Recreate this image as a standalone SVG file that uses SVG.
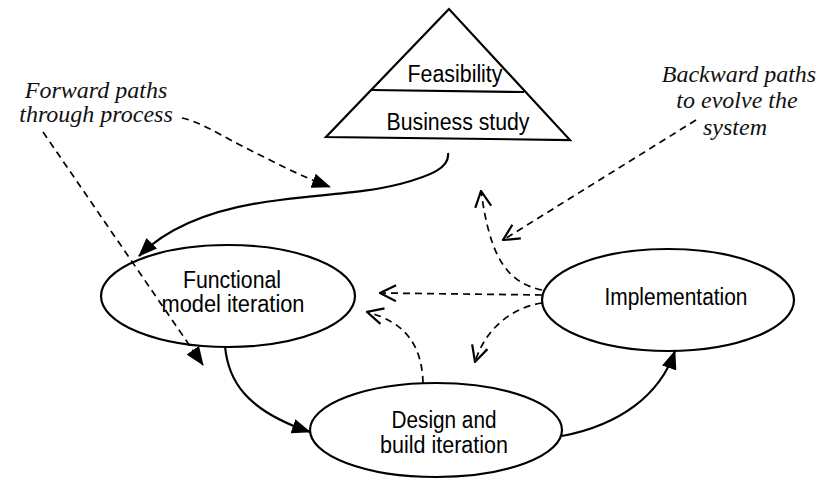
<svg xmlns="http://www.w3.org/2000/svg" width="836" height="483" viewBox="0 0 836 483">
  <style>
    .shape { fill: none; stroke: #000; stroke-width: 2.2; }
    .label { font-family: "Liberation Sans", Arial, sans-serif; font-size: 23px; fill: #000; text-anchor: middle; }
    .note { font-family: "Liberation Serif", "Times New Roman", serif; font-style: italic; font-size: 24px; fill: #111; text-anchor: middle; }
    .flow { fill: none; stroke: #000; stroke-width: 2.2; }
    .dash { fill: none; stroke: #000; stroke-width: 1.7; stroke-dasharray: 7 5; }
  </style>
  <defs>
    <marker id="tri" viewBox="0 0 19 15" refX="18" refY="7.5" markerWidth="19" markerHeight="15" markerUnits="userSpaceOnUse" orient="auto">
      <path d="M0,0 L19,7.5 L0,15 z" fill="#000" stroke="none"/>
    </marker>
    <marker id="vee" viewBox="0 0 18 18" refX="17" refY="9" markerWidth="18" markerHeight="18" markerUnits="userSpaceOnUse" orient="auto">
      <path d="M1,1 L17,9 L1,17" fill="none" stroke="#000" stroke-width="2.2" stroke-dasharray="none"/>
    </marker>
  </defs>
  <rect width="836" height="483" fill="#fff"/>

  <!-- pyramid: feasibility over business study -->
  <g id="feasibility-business">
    <polygon class="shape" points="449,9 326,137 570,140"/>
    <line class="shape" x1="371" y1="90" x2="524" y2="92"/>
    <text class="label" x="455" y="82" textLength="95" lengthAdjust="spacingAndGlyphs">Feasibility</text>
    <text class="label" x="458" y="130" textLength="143" lengthAdjust="spacingAndGlyphs">Business study</text>
  </g>

  <g id="functional-model">
    <ellipse class="shape" cx="228" cy="296" rx="127" ry="51"/>
    <text class="label" x="232" y="288" textLength="98" lengthAdjust="spacingAndGlyphs">Functional</text>
    <text class="label" x="233" y="312" textLength="143" lengthAdjust="spacingAndGlyphs">model iteration</text>
  </g>

  <g id="design-build">
    <ellipse class="shape" cx="436" cy="430" rx="126" ry="47"/>
    <text class="label" x="444" y="428" textLength="105" lengthAdjust="spacingAndGlyphs">Design and</text>
    <text class="label" x="444" y="453" textLength="128" lengthAdjust="spacingAndGlyphs">build iteration</text>
  </g>

  <g id="implementation">
    <ellipse class="shape" cx="668" cy="300" rx="126" ry="51"/>
    <text class="label" x="676" y="305" textLength="143" lengthAdjust="spacingAndGlyphs">Implementation</text>
  </g>

  <g id="notes">
    <text class="note" x="96" y="98">Forward paths</text>
    <text class="note" x="96" y="122">through process</text>
    <text class="note" x="739" y="82">Backward paths</text>
    <text class="note" x="737" y="108">to evolve the</text>
    <text class="note" x="735" y="135">system</text>
  </g>

  <g id="connectors">
    <!-- forward flow -->
    <path class="flow" d="M448,153 C450,168 430,176 400,184 C370,192 330,194 280,200 C220,207 170,225 139,256" marker-end="url(#tri)"/>
    <path class="flow" d="M225,346 C228,380 245,410 310,432" marker-end="url(#tri)"/>
    <path class="flow" d="M562,436 C620,425 660,395 675,351" marker-end="url(#tri)"/>
    <!-- annotation pointers -->
    <path class="dash" d="M182,118 C200,122 215,132 240,145 C270,160 300,176 330,187" marker-end="url(#tri)"/>
    <path class="dash" d="M43,132 L203,365" marker-end="url(#tri)"/>
    <path class="dash" d="M696,120 L503,240" marker-end="url(#vee)"/>
    <!-- backward paths -->
    <path class="dash" d="M542,290 C505,282 490,255 481,191" marker-end="url(#vee)"/>
    <path class="dash" d="M542,295 L380,293" marker-end="url(#vee)"/>
    <path class="dash" d="M542,303 C510,308 485,330 475,362" marker-end="url(#vee)"/>
    <path class="dash" d="M423,383 C422,345 405,322 367,312" marker-end="url(#vee)"/>
  </g>
</svg>
